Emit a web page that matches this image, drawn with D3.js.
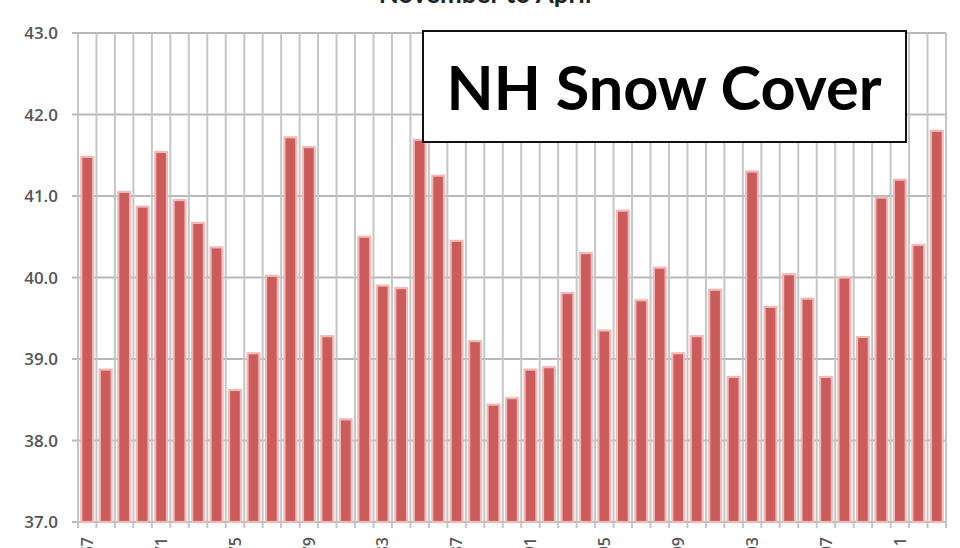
<!DOCTYPE html>
<html>
<head>
<meta charset="utf-8">
<script src="https://cdn.jsdelivr.net/npm/d3@7"></script>
<style>
  body { margin: 0; background: #fff; }
  svg { display: block; }
</style>
</head>
<body>
<svg id="chart" width="960" height="548"></svg>
<script>
var years = d3.range(1967, 2014)
var snowCover = [41.48, 38.87, 41.05, 40.87, 41.54, 40.95, 40.67, 40.37, 38.62, 39.07,
   40.02, 41.72, 41.6, 39.28, 38.26, 40.5, 39.9, 39.87, 41.69, 41.25,
   40.45, 39.22, 38.44, 38.52, 38.87, 38.9, 39.81, 40.3, 39.35, 40.82,
   39.72, 40.12, 39.07, 39.28, 39.85, 38.78, 41.3, 39.64, 40.04, 39.74,
   38.78, 40.0, 39.27, 40.98, 41.2, 40.4, 41.8]
var yTicks = [37, 38, 39, 40, 41, 42, 43]
var title = "November to April"
var boxLabel = "NH Snow Cover"

var svg = d3.select("#chart")
var margin = {top: 33, right: 14, bottom: 26, left: 78}
var width = 960 - margin.left - margin.right
var height = 548 - margin.top - margin.bottom

var x = d3.scaleBand()
   .domain(years)
   .range([0, width])
   .paddingInner(0)

var y = d3.scaleLinear()
   .domain([37, 43])
   .range([height, 0])

var g = svg.append("g")
   .attr("transform", "translate(" + margin.left + "," + margin.top + ")")

// title, cut off at the top like the picture
svg.append("text")
   .attr("x", 485)
   .attr("y", 3)
   .attr("text-anchor", "middle")
   .style("font-family", "Lato, 'Open Sans', sans-serif")
   .style("font-weight", "bold")
   .style("font-size", "26px")
   .style("fill", "#222")
   .text(title)

// horizontal gridlines
g.selectAll(".hgrid")
   .data(yTicks)
   .enter()
   .append("line")
      .attr("x1", -6)
      .attr("x2", width)
      .attr("y1", function(d) { return y(d) })
      .attr("y2", function(d) { return y(d) })
      .attr("stroke", "#b8b8b8")
      .attr("stroke-width", 2)

// vertical gridlines at category edges
g.selectAll(".vgrid")
   .data(years.concat([2014]))
   .enter()
   .append("line")
      .attr("x1", function(d, i) { return i * x.bandwidth() })
      .attr("x2", function(d, i) { return i * x.bandwidth() })
      .attr("y1", 0)
      .attr("y2", height + 6)
      .attr("stroke", "#c6c6c6")
      .attr("stroke-width", 2)

// bars
var barW = x.bandwidth() * 0.64
g.selectAll(".bar")
   .data(snowCover)
   .enter()
   .append("rect")
      .attr("x", function(d, i) { return x(years[i]) + (x.bandwidth() - barW) / 2 })
      .attr("y", function(d) { return y(d) })
      .attr("width", barW)
      .attr("height", function(d) { return height - y(d) })
      .attr("fill", "#ca5c5c")
      .attr("stroke", "#f2b9b9")
      .attr("stroke-width", 2.2)

// y axis labels
g.selectAll(".ylab")
   .data(yTicks)
   .enter()
   .append("text")
      .attr("x", -20)
      .attr("y", function(d) { return y(d) })
      .attr("dy", "0.36em")
      .attr("text-anchor", "end")
      .style("font-family", "'Open Sans', sans-serif")
      .style("font-weight", "600")
      .style("font-size", "17px")
      .style("fill", "#555")
      .text(function(d) { return d.toFixed(1) })

// x labels every 4 years, rotated, mostly off the bottom
g.selectAll(".xlab")
   .data(years.filter(function(d) { return (d - 1967) % 4 == 0 }))
   .enter()
   .append("text")
      .attr("transform", function(d) {
         return "translate(" + (x(d) + x.bandwidth() / 2) + "," + (height + 15) + ") rotate(-90)"
      })
      .attr("dy", "0.36em")
      .attr("text-anchor", "end")
      .style("font-family", "'Open Sans', sans-serif")
      .style("font-weight", "600")
      .style("font-size", "16px")
      .style("fill", "#555")
      .text(function(d) { return d })

// label box
var box = svg.append("g")
box.append("rect")
   .attr("x", 423)
   .attr("y", 31)
   .attr("width", 483)
   .attr("height", 111)
   .attr("fill", "#fff")
   .attr("stroke", "#111")
   .attr("stroke-width", 2)
var bt = box.append("text")
   .attr("x", 664)
   .attr("y", 110)
   .attr("text-anchor", "middle")
   .style("font-family", "Lato, 'Open Sans', sans-serif")
   .style("font-weight", "bold")
   .style("font-size", "60px")
   .style("fill", "#000")
   .text(boxLabel)
// fit the text to the width seen in the picture
var len = bt.node().getComputedTextLength()
bt.style("font-size", (60 * 435 / len) + "px")
</script>
</body>
</html>
